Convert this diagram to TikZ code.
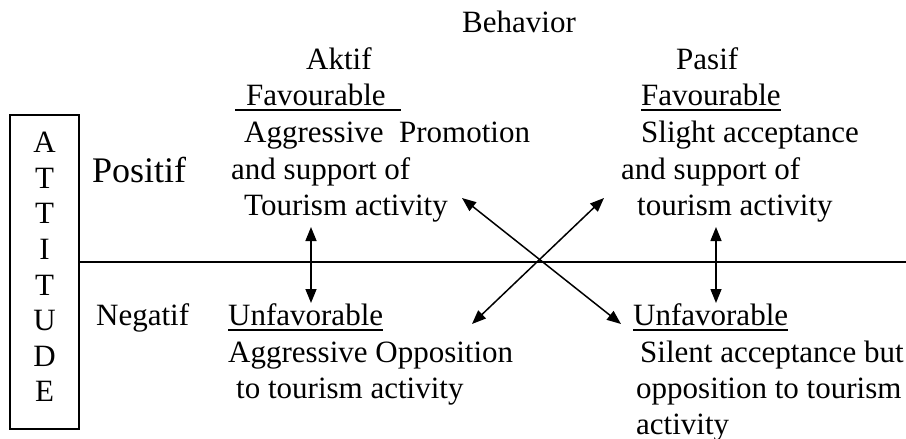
\documentclass[tikz,border=0pt]{standalone}
\usepackage{fontspec}
\setmainfont{Liberation Serif}
\usetikzlibrary{arrows.meta}
\newcommand{\undl}[1]{\vtop{\hbox{#1}\kern4pt\hrule height1.6pt}}

\begin{document}
\begin{tikzpicture}[x=1pt,y=-1pt,
  t/.style={anchor=base west,inner sep=0pt,font=\fontsize{31}{38}\selectfont},
  big/.style={t,font=\fontsize{36}{42}\selectfont},
  ln/.style={line width=1.5pt},
  a/.style={{Triangle[length=14pt,width=11pt]}-{Triangle[length=14pt,width=11pt]},line width=1.5pt}
]
  \useasboundingbox (0,0) rectangle (906,439);
  % attitude box
  \node[draw,ln,minimum width=69pt,minimum height=314pt,inner sep=0pt] (att) at (44.5,272) {};
  \node[inner sep=0pt,align=center,font=\fontsize{31}{35.6}\selectfont] (attTxt) at (44.5,267)
    {A\\T\\T\\I\\T\\U\\D\\E};
  \coordinate (rEnd) at (906,262);
  \draw[ln] (att.east |- rEnd) -- (rEnd);
  % headings
  \node[t] (behav) at (462,32) {Behavior};
  \node[t] (aktif) at (306,69) {Aktif};
  \node[t] (pasif) at (676,69) {Pasif};
  \node[big] (pos) at (92,182) {Positif};
  \node[t] (neg) at (96,325) {Negatif};
  % favourable, aktif
  \node[t] (favL) at (235,105) {\undl{\hspace{11pt}Favourable\hspace{15pt}}};
  \node[t] (promL1) at (244,142) {Aggressive\ \ Promotion};
  \node[t] (promL2) at (231,179) {and support of};
  \node[t] (promL3) at (244,215) {Tourism activity};
  % favourable, pasif
  \node[t] (favR) at (641,105) {\undl{Favourable}};
  \node[t] (accR1) at (641,142) {Slight acceptance};
  \node[t] (accR2) at (621,179) {and support of};
  \node[t] (accR3) at (637,215) {tourism activity};
  % unfavorable, aktif
  \node[t] (unfL) at (228,325) {\undl{Unfavorable}};
  \node[t] (oppL1) at (228,362) {Aggressive Opposition};
  \node[t] (oppL2) at (236,398) {to tourism activity};
  % unfavorable, pasif
  \node[t] (unfR) at (633,325) {\undl{Unfavorable}};
  \node[t] (silR1) at (640,362) {Silent acceptance but};
  \node[t] (silR2) at (636,398) {opposition to tourism};
  \node[t] (silR3) at (636,434) {activity};
  % arrows
  \coordinate (lvTop) at (311,227);
  \coordinate (lvBot) at (311,303);
  \coordinate (rvTop) at (716,227);
  \coordinate (rvBot) at (716,303);
  \coordinate (xTL) at (462,198);
  \coordinate (xBR) at (621,324);
  \coordinate (xTR) at (604,198);
  \coordinate (xBL) at (472,324);
  \draw[a] (lvTop) -- (lvBot);
  \draw[a] (rvTop) -- (rvBot);
  \draw[a] (xTL) -- (xBR);
  \draw[a] (xTR) -- (xBL);
\end{tikzpicture}
\end{document}
